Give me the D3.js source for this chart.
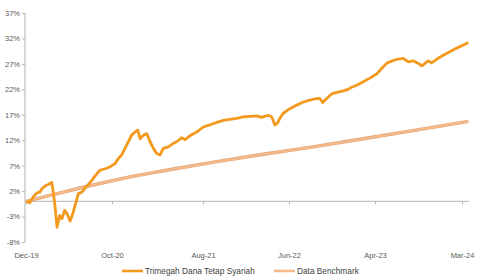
<!DOCTYPE html>
<html>

<head>
    <meta charset="utf-8">
    <title>Trimegah Dana Tetap Syariah</title>
    <script type="text/javascript" src="https://cdnjs.cloudflare.com/ajax/libs/d3/7.8.5/d3.min.js"></script>
    <style>
        body {
            margin: 0;
            background: #fff;
        }

        .axis text {
            font-family: "Liberation Sans", Arial, sans-serif;
            font-size: 7.5px;
            fill: #595959;
        }

        .axis path,
        .axis line {
            stroke: #b3b3b3;
        }

        .legend text {
            font-family: "Liberation Sans", Arial, sans-serif;
            font-size: 8.3px;
            fill: #404040;
        }
    </style>
</head>

<body>
    <div id="chart"></div>

    <script type="text/javascript">
        // fund series (cumulative return, %)
        const fundDates = [
            "2019-12-30", "2020-01-12", "2020-01-23", "2020-02-04", "2020-02-15", "2020-02-22", "2020-03-04",
            "2020-03-15", "2020-03-27", "2020-04-02", "2020-04-08", "2020-04-14", "2020-04-23", "2020-05-01",
            "2020-05-10", "2020-05-18", "2020-05-29", "2020-06-07", "2020-06-15", "2020-06-26", "2020-07-08",
            "2020-07-19", "2020-07-30", "2020-08-11", "2020-08-28", "2020-09-08", "2020-09-26", "2020-10-13",
            "2020-10-29", "2020-11-09", "2020-11-20", "2020-12-01", "2020-12-12", "2020-12-23", "2021-01-03",
            "2021-01-12", "2021-01-20", "2021-01-31", "2021-02-11", "2021-02-22", "2021-03-05", "2021-03-16",
            "2021-03-27", "2021-04-07", "2021-04-23", "2021-05-10", "2021-05-21", "2021-06-07", "2021-06-18",
            "2021-07-04", "2021-07-26", "2021-08-17", "2021-09-09", "2021-10-03", "2021-10-26", "2021-11-18",
            "2021-12-12", "2022-01-04", "2022-01-27", "2022-02-20", "2022-03-09", "2022-04-01", "2022-04-13",
            "2022-04-25", "2022-05-03", "2022-05-12", "2022-05-24", "2022-06-16", "2022-07-10", "2022-08-02",
            "2022-08-25", "2022-09-18", "2022-09-29", "2022-10-09", "2022-10-23", "2022-11-09", "2022-11-27",
            "2022-12-20", "2023-01-06", "2023-01-18", "2023-02-05", "2023-02-28", "2023-03-23", "2023-04-16",
            "2023-05-05", "2023-05-24", "2023-06-05", "2023-07-01", "2023-07-26", "2023-08-14", "2023-09-02",
            "2023-09-21", "2023-10-04", "2023-10-16", "2023-10-28", "2023-11-10", "2023-11-29", "2023-12-24",
            "2024-01-18", "2024-02-13", "2024-03-09", "2024-03-28"
        ];
        const fundValues = [
            0.0, -0.3, 0.8, 1.6, 1.8, 2.4, 3.0,
            3.3, 3.7, 1.5, -1.4, -5.1, -2.8, -3.4,
            -1.8, -2.4, -3.9, -2.4, -0.8, 1.5, 1.8,
            2.6, 3.3, 4.1, 5.4, 6.1, 6.4, 6.8,
            7.4, 8.4, 9.1, 10.4, 11.7, 13.0, 13.6,
            14.0, 12.3, 13.0, 13.3, 11.7, 10.4, 9.4,
            9.1, 10.4, 10.7, 11.4, 11.7, 12.5, 12.1,
            12.9, 13.6, 14.6, 15.0, 15.5, 15.9, 16.1,
            16.3, 16.6, 16.7, 16.8, 16.5, 16.9, 16.6,
            15.0, 15.3, 16.3, 17.3, 18.2, 18.9, 19.5,
            19.9, 20.2, 20.2, 19.4, 20.2, 21.1, 21.4,
            21.7, 22.0, 22.4, 22.8, 23.5, 24.2, 25.0,
            26.1, 27.1, 27.4, 27.9, 28.1, 27.4, 27.6,
            27.1, 26.6, 27.1, 27.6, 27.2, 27.9, 28.7,
            29.4, 30.1, 30.7, 31.2
        ];

        // benchmark series (cumulative return, %)
        const benchDates = [
            "2019-12-30", "2020-04-08", "2020-07-30", "2020-12-17", "2021-05-15", "2021-10-14",
            "2022-03-21", "2022-08-25", "2023-02-06", "2023-08-20", "2024-03-28"
        ];
        const benchValues = [0.0, 1.4, 3.0, 4.8, 6.4, 7.9, 9.3, 10.6, 12.1, 13.8, 15.7];

        // category axis labels (Excel puts them every N trading days)
        const tickDates = ["2019-12-30", "2020-10-19", "2021-08-16", "2022-06-13", "2023-04-10", "2024-03-04"];
        const tickLabels = ["Dec-19", "Oct-20", "Aug-21", "Jun-22", "Apr-23", "Mar-24"];
        const yTicks = [-8, -3, 2, 7, 12, 17, 22, 27, 32, 37];

        const seriesNames = ["Trimegah Dana Tetap Syariah", "Data Benchmark"];
        const seriesColors = ["#f39a1e", "#f5b98a"];

        const width = 485, height = 277;
        const parse = d3.timeParse("%Y-%m-%d");

        const fund = fundDates.map((d, i) => ({ date: parse(d), value: fundValues[i] }));
        const bench = benchDates.map((d, i) => ({ date: parse(d), value: benchValues[i] }));

        const svg = d3.select("#chart").append("svg")
            .attr("width", width)
            .attr("height", height);

        // piecewise time scale so the labels sit where the trading-day axis puts them
        const x = d3.scaleTime()
            .domain(tickDates.map(parse))
            .range([26, 112, 203, 289, 375, 462]);

        const y = d3.scaleLinear()
            .domain([-8, 37])
            .range([242, 13]);

        // y axis
        const yAxis = svg.append("g")
            .attr("class", "axis")
            .attr("transform", "translate(25,0)")
            .call(d3.axisLeft(y).tickValues(yTicks).tickSize(3).tickPadding(2)
                .tickFormat(d => d + "%"));
        yAxis.select(".domain").attr("d", "M0," + y(-8) + "V" + y(37));

        // x axis on the zero line
        const xAxis = svg.append("g")
            .attr("class", "axis")
            .attr("transform", "translate(0," + y(0) + ")")
            .call(d3.axisBottom(x).tickValues(tickDates.map(parse)).tickSize(3)
                .tickFormat((d, i) => tickLabels[i]));
        xAxis.select(".domain").attr("d", "M25,0H469");
        xAxis.selectAll("text").attr("y", 51);

        const line = d3.line()
            .x(d => x(d.date))
            .y(d => y(d.value));

        // benchmark drawn with a faint darker edge, like the original
        svg.append("path")
            .datum(bench)
            .attr("fill", "none")
            .attr("stroke", "#e2a476")
            .attr("stroke-width", 3.4)
            .attr("d", line);
        svg.append("path")
            .datum(bench)
            .attr("fill", "none")
            .attr("stroke", seriesColors[1])
            .attr("stroke-width", 2.2)
            .attr("d", line);

        svg.append("path")
            .datum(fund)
            .attr("fill", "none")
            .attr("stroke", seriesColors[0])
            .attr("stroke-width", 2.8)
            .attr("stroke-linejoin", "round")
            .attr("d", line);

        // legend
        const legendX = [122, 274];
        const legend = svg.append("g").attr("class", "legend");
        seriesNames.forEach((name, i) => {
            const g = legend.append("g").attr("transform", "translate(" + legendX[i] + ",271)");
            g.append("line")
                .attr("x1", 0).attr("x2", 21)
                .attr("stroke", seriesColors[i])
                .attr("stroke-width", 2.6);
            g.append("text")
                .attr("x", 23)
                .attr("y", 3)
                .text(name);
        });
    </script>
</body>

</html>
